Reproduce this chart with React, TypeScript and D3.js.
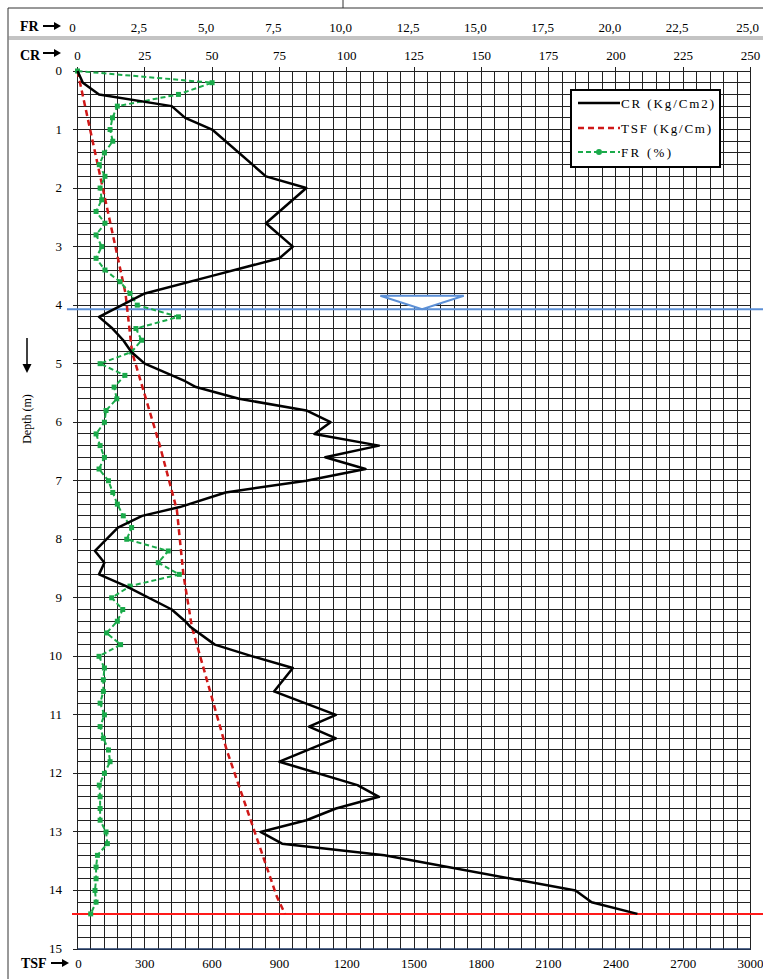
import React from 'react';
import * as d3 from 'd3';

// axis labels
const depthTicks = d3.range(0, 16);
const crTicks = [0, 25, 50, 75, 100, 125, 150, 175, 200, 225, 250];
const frTicks = ['0', '2,5', '5,0', '7,5', '10,0', '12,5', '15,0', '17,5', '20,0', '22,5', '25,0'];
const tsfTicks = [0, 300, 600, 900, 1200, 1500, 1800, 2100, 2400, 2700, 3000];

// CR (Kg/Cm2) vs depth (m)
const crDepth = [0, 0.2, 0.4, 0.6, 0.8, 1.0, 1.8, 2.0, 2.6, 3.0, 3.2, 3.5, 3.8, 4.2, 4.4, 4.6, 4.8, 5.0, 5.3, 5.4, 5.6, 5.8, 6.0, 6.2, 6.4, 6.6, 6.8, 7.0, 7.2, 7.45, 7.6, 7.8, 8.2, 8.4, 8.6, 8.8, 9.2, 9.4, 9.5, 9.8, 10.0, 10.2, 10.6, 11.0, 11.2, 11.4, 11.8, 12.2, 12.4, 12.6, 12.8, 13.0, 13.2, 13.4, 14.0, 14.2, 14.4];
const crValue = [0, 2, 8, 35, 40, 50, 70, 85, 70, 80, 75, 50, 25, 8, 13, 17, 20, 25, 40, 44, 60, 85, 94, 88, 112, 92, 107, 85, 55, 38, 24, 15, 6.5, 10, 8, 18, 35, 40, 42, 51, 65, 80, 73, 96, 86, 96, 75, 104, 112, 96, 85, 68, 76, 114, 185, 191, 208];

// TSF (Kg/Cm) vs depth (m)
const tsfDepth = [0, 3.8, 4.8, 6.4, 7.5, 8.6, 9.5, 11.6, 14.1, 14.4];
const tsfValue = [0, 214, 243, 367, 443, 472, 510, 665, 888, 925];

// FR (%) vs depth (m)
const frDepth = [0, 0.2, 0.4, 0.6, 0.8, 1.0, 1.2, 1.4, 1.6, 1.8, 2.0, 2.2, 2.4, 2.6, 2.8, 3.0, 3.2, 3.4, 3.6, 3.8, 4.0, 4.2, 4.4, 4.6, 4.8, 5.0, 5.2, 5.4, 5.6, 5.8, 6.0, 6.2, 6.4, 6.6, 6.8, 7.0, 7.2, 7.4, 7.6, 7.8, 8.0, 8.2, 8.4, 8.6, 8.8, 9.0, 9.2, 9.4, 9.6, 9.8, 10.0, 10.2, 10.4, 10.6, 10.8, 11.0, 11.2, 11.4, 11.6, 11.8, 12.0, 12.2, 12.4, 12.6, 12.8, 13.0, 13.2, 13.4, 13.6, 13.8, 14.0, 14.2, 14.4];
const frValue = [0, 5.0, 3.75, 1.48, 1.3, 1.21, 1.31, 1.0, 0.81, 1.02, 0.84, 0.9, 0.69, 1.02, 0.69, 0.9, 0.69, 1.02, 1.58, 1.95, 2.22, 3.75, 2.17, 2.38, 2.01, 0.84, 1.76, 1.36, 1.46, 1.06, 1.0, 0.69, 0.84, 1.0, 0.8, 1.15, 1.31, 1.48, 1.7, 2.01, 1.83, 3.37, 3.0, 3.78, 1.95, 1.27, 1.68, 1.48, 1.08, 1.6, 0.8, 1.0, 0.96, 0.96, 0.84, 1.0, 0.84, 0.96, 1.15, 1.21, 1.0, 0.81, 0.84, 0.84, 0.84, 1.06, 1.11, 0.74, 0.69, 0.69, 0.65, 0.69, 0.49];

// reference levels
const waterDepth = 4.07;
const waterMarkCR = 128;
const bottomDepth = 14.4;

const W = 763;
const H = 979;
const font = '"Liberation Serif", "Times New Roman", serif';

function Arrow({ x1, x2, y }: { x1: number; x2: number; y: number }) {
  return (
    <g>
      <line x1={x1} x2={x2 - 6} y1={y} y2={y} stroke="#000" strokeWidth={2} />
      <path d={`M${x2 - 7},${y - 4} L${x2},${y} L${x2 - 7},${y + 4} Z`} fill="#000" />
    </g>
  );
}

export default function App() {
  const x = d3.scaleLinear().domain([0, 250]).range([77.5, 750.5]);
  const xFR = d3.scaleLinear().domain([0, 25]).range([77.5, 750.5]);
  const xTSF = d3.scaleLinear().domain([0, 3000]).range([77.5, 750.5]);
  const y = d3.scaleLinear().domain([0, 15]).range([71, 949]);

  const vGrid = d3.range(0, 251, 5);
  const hGrid = d3.range(0, 76).map(i => i * 0.2);

  const crLine = d3.line<number>().x(i => x(crValue[i])).y(i => y(crDepth[i]));
  const tsfLine = d3.line<number>().x(i => xTSF(tsfValue[i])).y(i => y(tsfDepth[i]));
  const frLine = d3.line<number>().x(i => xFR(frValue[i])).y(i => y(frDepth[i]));

  const wy = y(waterDepth);
  const tri = `M${x(waterMarkCR - 15.5)},${y(waterDepth - 0.23)} L${x(waterMarkCR + 15.5)},${y(waterDepth - 0.23)} L${x(waterMarkCR)},${wy} Z`;

  return (
    <div style={{ position: 'absolute', left: 0, top: 0 }}>
      <svg width={W} height={H} style={{ display: 'block', background: '#fff' }} fontFamily={font}>
        {/* frame */}
        <line x1={8} x2={W} y1={8} y2={8} stroke="#333" strokeWidth={1} />
        <line x1={8} x2={8} y1={8} y2={H} stroke="#333" strokeWidth={1} />
        <line x1={343} x2={343} y1={0} y2={8} stroke="#333" strokeWidth={1} />
        <line x1={8} x2={W} y1={37} y2={37} stroke="#888" strokeWidth={1} />
        <line x1={8} x2={W} y1={39} y2={39} stroke="#888" strokeWidth={1} />

        {/* grid */}
        <g stroke="#222" strokeWidth={1} shapeRendering="crispEdges">
          {vGrid.map(v => (
            <line key={'v' + v} x1={x(v)} x2={x(v)} y1={y(0)} y2={y(15)} />
          ))}
          {hGrid.map(d => (
            <line key={'h' + d} x1={x(0)} x2={x(250)} y1={y(d)} y2={y(d)} />
          ))}
          {crTicks.map(v => (
            <line key={'t' + v} x1={x(v)} x2={x(v)} y1={y(0) - 4} y2={y(0)} />
          ))}
          {depthTicks.map(d => (
            <line key={'d' + d} x1={x(0) - 5} x2={x(0)} y1={y(d)} y2={y(d)} />
          ))}
        </g>
        <line x1={x(0)} x2={x(250)} y1={y(15)} y2={y(15)} stroke="#1f3864" strokeWidth={1.5} />

        {/* top labels */}
        <text x={20} y={31} fontSize={14} fontWeight="bold">FR</text>
        <Arrow x1={43} x2={61} y={26} />
        {frTicks.map((t, i) => (
          <text key={'fr' + t} x={xFR(i * 2.5) - (i === 0 ? 5 : i === 10 ? 3 : 6)} y={32} fontSize={13} textAnchor="middle">{t}</text>
        ))}
        <text x={20} y={60} fontSize={14} fontWeight="bold">CR</text>
        <Arrow x1={43} x2={61} y={53} />
        {crTicks.map(v => (
          <text key={'cr' + v} x={x(v)} y={60} fontSize={13} textAnchor="middle">{v}</text>
        ))}

        {/* depth labels */}
        {depthTicks.map(d => (
          <text key={'dl' + d} x={62} y={y(d) + 4} fontSize={13} textAnchor="end">{d}</text>
        ))}
        <text transform="translate(31,419) rotate(-90)" fontSize={12} textAnchor="middle">Depth (m)</text>
        <line x1={27} x2={27} y1={338} y2={366} stroke="#000" strokeWidth={1.5} />
        <path d="M22.5,364 L31.5,364 L27,373 Z" fill="#000" />

        {/* bottom labels */}
        <text x={21} y={968} fontSize={14} fontWeight="bold">TSF</text>
        <Arrow x1={51} x2={69} y={963} />
        {tsfTicks.map(v => (
          <text key={'ts' + v} x={xTSF(v) + (v === 0 ? 1 : 0)} y={968} fontSize={13} textAnchor="middle">{v}</text>
        ))}

        {/* water table */}
        <line x1={67} x2={W} y1={wy} y2={wy} stroke="#5b8fd6" strokeWidth={2} />
        <path d={tri} fill="#fff" stroke="#5b8fd6" strokeWidth={2} />

        {/* bottom of test */}
        <line x1={72} x2={W} y1={y(bottomDepth)} y2={y(bottomDepth)} stroke="#ff1a1a" strokeWidth={2} />

        {/* series */}
        <path d={tsfLine(d3.range(tsfDepth.length)) || ''} fill="none" stroke="#d01818" strokeWidth={2.5} strokeDasharray="6,4" />
        <path d={frLine(d3.range(frDepth.length)) || ''} fill="none" stroke="#1aaa4a" strokeWidth={2} strokeDasharray="5,3" />
        {frDepth.map((d, i) => (
          <rect key={'m' + i} x={xFR(frValue[i]) - 2.5} y={y(d) - 2.5} width={5} height={5} fill="#1aaa4a" />
        ))}
        <path d={crLine(d3.range(crDepth.length)) || ''} fill="none" stroke="#000" strokeWidth={2.5} strokeLinejoin="round" />

        {/* legend */}
        <rect x={571} y={90} width={149} height={77} fill="#fff" stroke="#000" strokeWidth={2} />
        <line x1={578} x2={620} y1={103} y2={103} stroke="#000" strokeWidth={2.5} />
        <text x={621} y={108} fontSize={13} textLength={93} lengthAdjust="spacing">CR (Kg/Cm2)</text>
        <line x1={578} x2={620} y1={128} y2={128} stroke="#d01818" strokeWidth={2.5} strokeDasharray="6,4" />
        <text x={621} y={133} fontSize={13} textLength={90} lengthAdjust="spacing">TSF (Kg/Cm)</text>
        <line x1={578} x2={620} y1={152} y2={152} stroke="#1aaa4a" strokeWidth={2} strokeDasharray="5,3" />
        <circle cx={599} cy={152} r={3} fill="#1aaa4a" />
        <text x={621} y={157} fontSize={13} textLength={50} lengthAdjust="spacing">FR (%)</text>
      </svg>
    </div>
  );
}
